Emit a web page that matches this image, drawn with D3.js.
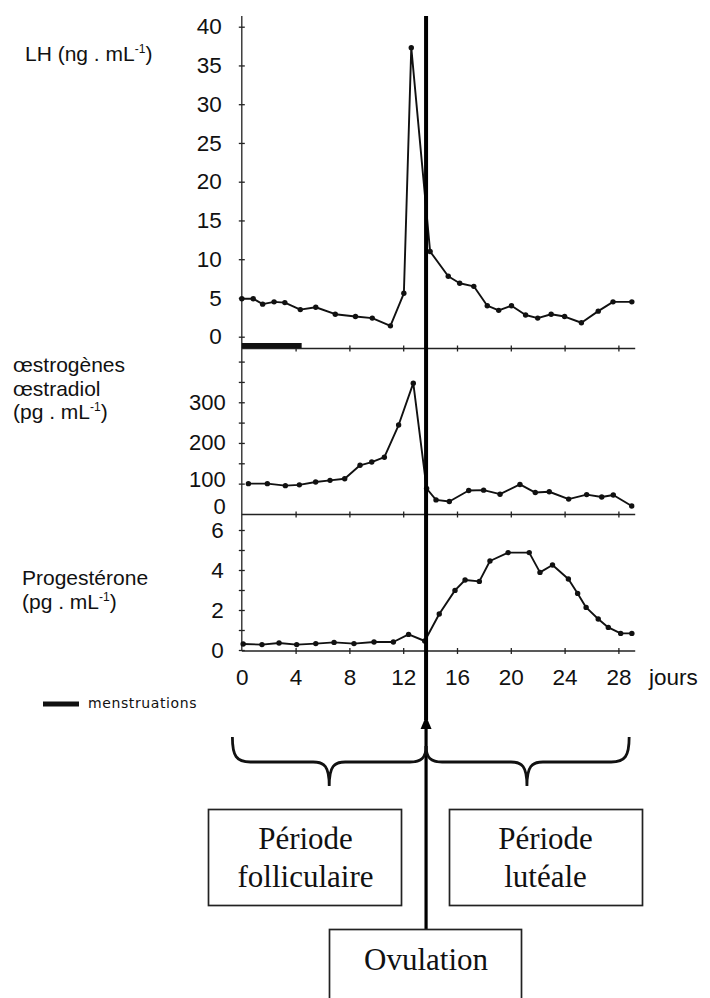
<!DOCTYPE html>
<html>
<head>
<meta charset="utf-8">
<script src="https://cdn.jsdelivr.net/npm/d3@7"></script>
<style>
  body { margin: 0; background: #fff; }
  text { fill: #111; }
</style>
</head>
<body>
<div id="chart"></div>
<script>
// LH (ng/mL): sample day and value
const lhDays   = [0, 0.85, 1.55, 2.4, 3.2, 4.35, 5.5, 6.95, 8.45, 9.7, 11.05, 12.05, 12.6, 14.0, 15.35, 16.2, 17.25, 18.25, 19.1, 20.05, 21.1, 22.0, 23.0, 24.0, 25.25, 26.5, 27.6, 29.0]
const lhValues = [4.9, 4.9, 4.2, 4.5, 4.4, 3.5, 3.8, 2.9, 2.6, 2.4, 1.4, 5.6, 37.3, 11.0, 7.8, 6.9, 6.5, 4.0, 3.4, 4.0, 2.8, 2.4, 2.9, 2.6, 1.8, 3.3, 4.5, 4.5]

// oestradiol (pg/mL)
const e2Days   = [0.49, 1.9, 3.24, 4.28, 5.49, 6.56, 7.65, 8.79, 9.66, 10.6, 11.66, 12.75, 13.74, 14.44, 15.43, 16.87, 17.98, 19.2, 20.68, 21.82, 22.86, 24.3, 25.64, 26.76, 27.62, 28.99]
const e2Values = [100, 100, 95, 97, 104, 108, 112, 145, 153, 165, 244, 347, 88, 60, 56, 83, 84, 74, 98, 78, 80, 62, 73, 67, 72, 45]

// progesterone
const pgDays   = [0.1, 1.5, 2.77, 4.08, 5.5, 6.86, 8.34, 9.83, 11.27, 12.4, 13.6, 14.68, 15.85, 16.6, 17.66, 18.45, 19.8, 21.37, 22.17, 23.1, 24.28, 24.97, 25.6, 26.5, 27.25, 28.17, 29.0]
const pgValues = [0.3, 0.27, 0.35, 0.27, 0.32, 0.38, 0.32, 0.4, 0.4, 0.78, 0.45, 1.8, 2.98, 3.5, 3.43, 4.45, 4.87, 4.87, 3.88, 4.25, 3.55, 2.83, 2.13, 1.55, 1.13, 0.83, 0.83]

const dayTicks = [0, 4, 8, 12, 16, 20, 24, 28]
const menstruation = [0, 4.45]
const ovulationDay = 13.7
// braces under the chart: start, tip and end day of each phase
const phases = [
  {from: -0.7, tip: 6.5, to: ovulationDay, lines: ["Période", "folliculaire"]},
  {from: ovulationDay, tip: 21.2, to: 28.8, lines: ["Période", "lutéale"]}
]

var width = 710, height = 998
var sans = '"Liberation Sans", Arial, sans-serif'
var serif = '"Liberation Serif", "Times New Roman", serif'
var fmt = d3.format("d")

var svg = d3.select("#chart").append("svg")
    .attr("width", width)
    .attr("height", height)

var x = d3.scaleLinear().domain([0, 28]).range([241.8, 618.4])
var x0 = x(0), xEnd = x(29.25)

var panels = [
  { days: lhDays, values: lhValues,
    y: d3.scaleLinear().domain([0, 40]).range([336.7, 26.7]),
    base: 348.5, ticks: d3.range(0, 41, 5), labels: d3.range(0, 41, 5), pad: 17, fs: 22.5,
    title: ["LH (ng . mL"], titleX: 25, titleY: 61 },
  { days: e2Days, values: e2Values,
    y: d3.scaleLinear().domain([0, 400]).range([524.3, 361.6]),
    base: 514.5, ticks: d3.range(100, 401, 50), labels: [0, 100, 200, 300], pad: 13, fs: 22,
    title: ["œstrogènes", "œstradiol", "(pg . mL"], titleX: 13, titleY: 372 },
  { days: pgDays, values: pgValues,
    y: d3.scaleLinear().domain([0, 6]).range([650, 530]),
    base: 651, ticks: d3.range(0, 7, 1), labels: [0, 2, 4, 6], pad: 15, fs: 22.5,
    title: ["Progestérone", "(pg . mL"], titleX: 22, titleY: 585 }
]

// vertical axis for the three panels
svg.append("line")
  .attr("x1", x0).attr("x2", x0)
  .attr("y1", 16).attr("y2", 651)
  .attr("stroke", "#222").attr("stroke-width", 1.3)

panels.forEach(function(p, i) {
  var g = svg.append("g")

  // horizontal axis line with crossing ticks
  g.append("line")
    .attr("x1", x0).attr("x2", xEnd)
    .attr("y1", p.base).attr("y2", p.base)
    .attr("stroke", "#222").attr("stroke-width", 1.4)
  ;[d3.axisBottom, d3.axisTop].forEach(function(ax) {
    g.append("g")
      .attr("transform", "translate(0," + p.base + ")")
      .call(ax(x).tickValues(dayTicks.slice(1)).tickSize(3).tickFormat(""))
      .call(function(a) { a.select(".domain").remove() })
      .selectAll("line").attr("stroke", "#222").attr("stroke-width", 1.3)
  })

  // y ticks crossing the axis
  ;[d3.axisLeft, d3.axisRight].forEach(function(ax) {
    g.append("g")
      .attr("transform", "translate(" + x0 + ",0)")
      .call(ax(p.y).tickValues(p.ticks).tickSize(3).tickFormat(""))
      .call(function(a) { a.select(".domain").remove() })
      .selectAll("line").attr("stroke", "#222").attr("stroke-width", 1.3)
  })

  // y labels
  var yl = g.append("g")
    .attr("transform", "translate(" + x0 + ",0)")
    .call(d3.axisLeft(p.y).tickValues(p.labels).tickFormat(fmt).tickSize(0).tickPadding(p.pad + 3))
  yl.select(".domain").remove()
  yl.selectAll("text")
    .attr("font-family", sans).attr("font-size", p.fs).attr("fill", "#1a1a1a")
  if (i == 1) {
    // the 0 of the oestradiol scale sits above the axis line, 100 a bit higher
    yl.selectAll(".tick").filter(function(d) { return d === 0 })
      .select("text").attr("dy", "-0.47em")
    yl.selectAll(".tick").filter(function(d) { return d === 100 })
      .select("text").attr("dy", "0.12em")
  }

  // panel title on the left
  var t = g.append("text")
    .attr("font-family", sans).attr("font-size", 21)
  p.title.forEach(function(s, k) {
    t.append("tspan")
      .attr("x", p.titleX)
      .attr("y", p.titleY + k * 23.5)
      .text(s)
    if (k == p.title.length - 1) {
      t.append("tspan").attr("dy", -8).attr("font-size", 12).text("-1")
      t.append("tspan").attr("dy", 8).text(")")
    }
  })

  // the curve and its points
  var pts = p.days.map(function(d, k) { return [d, p.values[k]] })
  g.append("path")
    .datum(pts)
    .attr("d", d3.line()
      .x(function(d) { return x(d[0]) })
      .y(function(d) { return p.y(d[1]) }))
    .attr("fill", "none")
    .attr("stroke", "#111")
    .attr("stroke-width", 1.9)
    .attr("stroke-linejoin", "round")
  g.selectAll("circle")
    .data(pts).enter().append("circle")
    .attr("cx", function(d) { return x(d[0]) })
    .attr("cy", function(d) { return p.y(d[1]) })
    .attr("r", 2.7)
    .attr("fill", "#111")
})

// day labels
var xl = svg.append("g")
  .attr("transform", "translate(0,651)")
  .call(d3.axisBottom(x).tickValues(dayTicks).tickFormat(fmt).tickSize(0).tickPadding(18))
xl.select(".domain").remove()
xl.selectAll("text").attr("font-family", sans).attr("font-size", 22.5).attr("fill", "#1a1a1a")

svg.append("text")
  .attr("x", 649).attr("y", 685)
  .attr("font-family", sans).attr("font-size", 22.5)
  .text("jours")

// menstruation bar on the LH axis + legend
svg.append("rect")
  .attr("x", x(menstruation[0]))
  .attr("y", 343)
  .attr("width", x(menstruation[1]) - x(menstruation[0]))
  .attr("height", 5)
  .attr("fill", "#111")
svg.append("rect")
  .attr("x", 43).attr("y", 701.5).attr("width", 36).attr("height", 5)
  .attr("fill", "#111")
svg.append("text")
  .attr("x", 88).attr("y", 707.5)
  .attr("font-family", '"DejaVu Sans", sans-serif').attr("font-size", 14)
  .attr("letter-spacing", 0.6)
  .text("menstruations")

// ovulation line and arrow
var ox = x(ovulationDay)
svg.append("line")
  .attr("x1", ox).attr("x2", ox).attr("y1", 16).attr("y2", 720)
  .attr("stroke", "#000").attr("stroke-width", 4)
svg.append("line")
  .attr("x1", ox).attr("x2", ox).attr("y1", 725).attr("y2", 930)
  .attr("stroke", "#000").attr("stroke-width", 3.2)
svg.append("path")
  .attr("d", "M" + ox + ",716 L" + (ox - 5.5) + ",729 L" + (ox + 5.5) + ",729 Z")
  .attr("fill", "#000")

// braces
var yt = 737, yh = 762, yb = 786
phases.forEach(function(ph, i) {
  var a = x(ph.from), m = x(ph.tip), b = x(ph.to)
  var path = d3.path()
  if (i == 0) {
    path.moveTo(a, yt)
    path.bezierCurveTo(a, yh - 6, a + 4, yh, a + 18, yh)
  } else {
    path.moveTo(a, yh - 16)
    path.bezierCurveTo(a, yh - 4, a + 5, yh, a + 16, yh)
  }
  path.lineTo(m - 16, yh)
  path.bezierCurveTo(m - 5, yh, m, yh + 4, m, yb)
  path.bezierCurveTo(m, yh + 4, m + 5, yh, m + 16, yh)
  if (i == 0) {
    path.lineTo(b - 16, yh)
    path.bezierCurveTo(b - 5, yh, b, yh - 4, b, yh - 16)
  } else {
    path.lineTo(b - 18, yh)
    path.bezierCurveTo(b - 4, yh, b, yh - 6, b, yt)
  }
  svg.append("path")
    .attr("d", path.toString())
    .attr("fill", "none")
    .attr("stroke", "#111")
    .attr("stroke-width", 2.8)
})

// boxes
var boxes = [
  {x: 208.5, y: 809.5, w: 193, h: 96, cx: 305.5, lines: phases[0].lines},
  {x: 449.5, y: 809.5, w: 193, h: 96, cx: 545.5, lines: phases[1].lines},
  {x: 329.5, y: 929.5, w: 192, h: 90, cx: ox, lines: ["Ovulation"]}
]
boxes.forEach(function(b) {
  svg.append("rect")
    .attr("x", b.x).attr("y", b.y).attr("width", b.w).attr("height", b.h)
    .attr("fill", "#fff").attr("stroke", "#222").attr("stroke-width", 1.7)
  b.lines.forEach(function(s, k) {
    svg.append("text")
      .attr("x", b.cx)
      .attr("y", b.lines.length == 1 ? 970 : 849 + k * 38)
      .attr("text-anchor", "middle")
      .attr("font-family", serif).attr("font-size", 31)
      .text(s)
  })
})
</script>
</body>
</html>
